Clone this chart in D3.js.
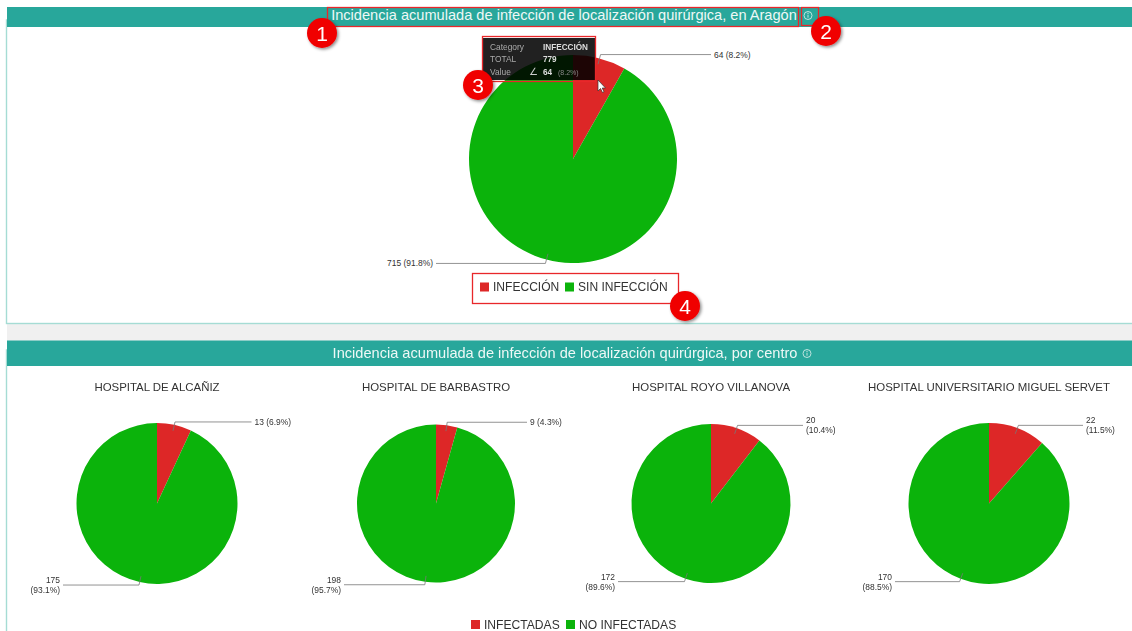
<!DOCTYPE html>
<html><head><meta charset="utf-8">
<script src="https://cdn.jsdelivr.net/npm/d3@7/dist/d3.min.js"></script>
<style>
html,body{margin:0;padding:0;background:#fff;overflow:hidden}
svg{display:block;filter:blur(0.35px)}
text{font-family:"Liberation Sans",Arial,sans-serif}
</style></head><body>
<svg id="c" width="1132" height="631"></svg>
<script>
const headerTop = "Incidencia acumulada de infección de localización quirúrgica, en Aragón";
const headerBottom = "Incidencia acumulada de infección de localización quirúrgica, por centro";
const topCategories = ["INFECCIÓN", "SIN INFECCIÓN"];
const topValues = [64, 715];
const topPercents = ["8.2%", "91.8%"];
const bottomCategories = ["INFECTADAS", "NO INFECTADAS"];
const hospitals = ["HOSPITAL DE ALCAÑIZ", "HOSPITAL DE BARBASTRO", "HOSPITAL ROYO VILLANOVA", "HOSPITAL UNIVERSITARIO MIGUEL SERVET"];
const infected = [13, 9, 20, 22];
const notInfected = [175, 198, 172, 170];
const infectedPct = ["6.9%", "4.3%", "10.4%", "11.5%"];
const notInfectedPct = ["93.1%", "95.7%", "89.6%", "88.5%"];
const tooltipRows = ["Category", "TOTAL", "Value"];
const tipVals = ["INFECCIÓN", "779", "64"];

const svg = d3.select("#c");
const RED = "#dd2727", GREEN = "#0bb30b", TEAL = "#28a79b", INK = "#333", EDGE = "#a5dcd4";
const color = d3.scaleOrdinal().domain([0, 1]).range([RED, GREEN]);

// page panels
svg.append("rect").attr("x",7).attr("y",324).attr("width",1125).attr("height",17).attr("fill","#f0f0f0");
svg.append("rect").attr("x",6.5).attr("y",20).attr("width",1130).attr("height",303.5).attr("fill","#fff").attr("stroke",EDGE).attr("stroke-width",1.4);
svg.append("rect").attr("x",6.5).attr("y",350).attr("width",1130).attr("height",300).attr("fill","#fff").attr("stroke",EDGE).attr("stroke-width",1.4);
svg.append("rect").attr("x",7).attr("y",7).attr("width",1125).attr("height",20).attr("fill",TEAL);
svg.append("rect").attr("x",7).attr("y",340.5).attr("width",1125).attr("height",25.5).attr("fill",TEAL);

function header(txt, x, y, ix){
  svg.append("text").attr("x",x).attr("y",y).attr("text-anchor","middle").attr("font-size",14.6).attr("fill","#eef8f6").text(txt);
  const g = svg.append("g").attr("transform",`translate(${ix},${y-4.5})`);
  g.append("circle").attr("r",4).attr("fill","none").attr("stroke","#cfeae6").attr("stroke-width",.9);
  g.append("line").attr("y1",-.8).attr("y2",2.2).attr("stroke","#cfeae6").attr("stroke-width",.9);
  g.append("circle").attr("cy",-2.1).attr("r",.55).attr("fill","#cfeae6");
}
header(headerTop, 564, 20, 808);
header(headerBottom, 565, 358, 807);

function pie(vals, cx, cy, r, out, xR, xL, fmt){
  const g = svg.append("g").attr("transform",`translate(${cx},${cy})`);
  const arcs = d3.pie().sort(null)(vals);
  const arc = d3.arc().innerRadius(0).outerRadius(r);
  g.selectAll("path").data(arcs).join("path").attr("d",arc).attr("fill",(d,i)=>color(i));
  arcs.forEach((d,i)=>{
    const mid = (d.startAngle+d.endAngle)/2;
    const a = d3.pointRadial(mid, r-6), b = d3.pointRadial(mid, r+out);
    const endX = (i===0 ? xR : xL) - cx;
    g.append("path").attr("d",d3.line()([a,b,[endX,b[1]]])).attr("fill","none").attr("stroke","#777").attr("stroke-width",.8);
    const t = g.append("text").attr("fill",INK).attr("font-size",8.45).attr("text-anchor",i===0?"start":"end");
    const tx = endX + (i===0?3:-3);
    const lines = fmt(i);
    lines.forEach((s,k)=>{
      t.append("tspan").attr("x",tx).attr("y",b[1]+3 + (k - (lines.length-1)/2)*10).text(s);
    });
  });
}

// top pie
pie(topValues, 573, 159, 104, 4, 711, 436, i=>[`${topValues[i]} (${topPercents[i]})`]);

// bottom pies
const cxs = [157, 436, 711, 989], rs = [80.5, 79, 79.5, 80.5];
const rightEnd = [251.5, 527, 803, 1083], leftEnd = [63, 344, 618, 895];
hospitals.forEach((h,i)=>{
  svg.append("text").attr("x",cxs[i]).attr("y",391).attr("text-anchor","middle").attr("font-size",11.45).attr("fill",INK).text(h);
  pie([infected[i],notInfected[i]], cxs[i], 503.5, rs[i], 3, rightEnd[i], leftEnd[i], k=>{
    const v = k===0?infected[i]:notInfected[i], p = k===0?infectedPct[i]:notInfectedPct[i];
    return (k===0 && i<2) ? [`${v} (${p})`] : [`${v}`,`(${p})`];
  });
});

// legends
function legend(cats, y, xs, fs, sz){
  cats.forEach((c,i)=>{
    svg.append("rect").attr("x",xs[i]).attr("y",y-sz/2).attr("width",sz).attr("height",sz).attr("fill",color(i));
    svg.append("text").attr("x",xs[i]+sz+4).attr("y",y+fs*0.36).attr("font-size",fs).attr("fill",INK).text(c);
  });
}
legend(topCategories, 287, [480,565], 12.05, 9);
legend(bottomCategories, 624.5, [471,566], 12.1, 9);

// tooltip
const tip = svg.append("g");
tip.append("rect").attr("x",483).attr("y",38).attr("width",112).attr("height",42).attr("fill","#000").attr("opacity",.87);
const rowY = [50,62,75];
tooltipRows.forEach((s,i)=>{
  tip.append("text").attr("x",490).attr("y",rowY[i]).attr("font-size",8.4).attr("fill","#aaa").text(s);
});
tipVals.forEach((s,i)=>{
  tip.append("text").attr("x",543).attr("y",rowY[i]).attr("font-size",8.2).attr("font-weight","bold").attr("fill","#ddd").text(s);
});
tip.append("text").attr("x",529).attr("y",75).attr("font-size",10).attr("fill","#ccc").text("∠");
tip.append("text").attr("x",558).attr("y",75).attr("font-size",7).attr("fill","#888").text("(8.2%)");

// cursor
svg.append("path").attr("d","M598 80 L598 91 L600.5 88.5 L602.5 92.5 L604 91.7 L602.2 88 L605.5 88 Z").attr("fill","#fff").attr("stroke","#333").attr("stroke-width",.7);

// annotation boxes
const boxes = [[327,7,471,19],[801,7,17,18],[482,36,113,45],[472,273,206,30]];
svg.selectAll("rect.box").data(boxes).join("rect").attr("class","box")
 .attr("x",d=>d[0]+.5).attr("y",d=>d[1]+.5).attr("width",d=>d[2]).attr("height",d=>d[3])
 .attr("fill","none").attr("stroke","#e8272a").attr("stroke-width",1.3);

// annotation badges
const defs = svg.append("defs");
const f = defs.append("filter").attr("id","sh").attr("x","-40%").attr("y","-40%").attr("width","180%").attr("height","180%");
f.append("feDropShadow").attr("dx",1.5).attr("dy",1.5).attr("stdDeviation",1.5).attr("flood-color","#000").attr("flood-opacity",.45);
const badges = [[322,33,"1"],[826,31,"2"],[478,85,"3"],[685,306,"4"]];
badges.forEach(b=>{
  svg.append("circle").attr("cx",b[0]).attr("cy",b[1]).attr("r",15).attr("fill","#f00000").attr("filter","url(#sh)");
  svg.append("text").attr("x",b[0]).attr("y",b[1]+7.5).attr("text-anchor","middle").attr("font-size",21).attr("fill","#fff").text(b[2]);
});
</script></body></html>
